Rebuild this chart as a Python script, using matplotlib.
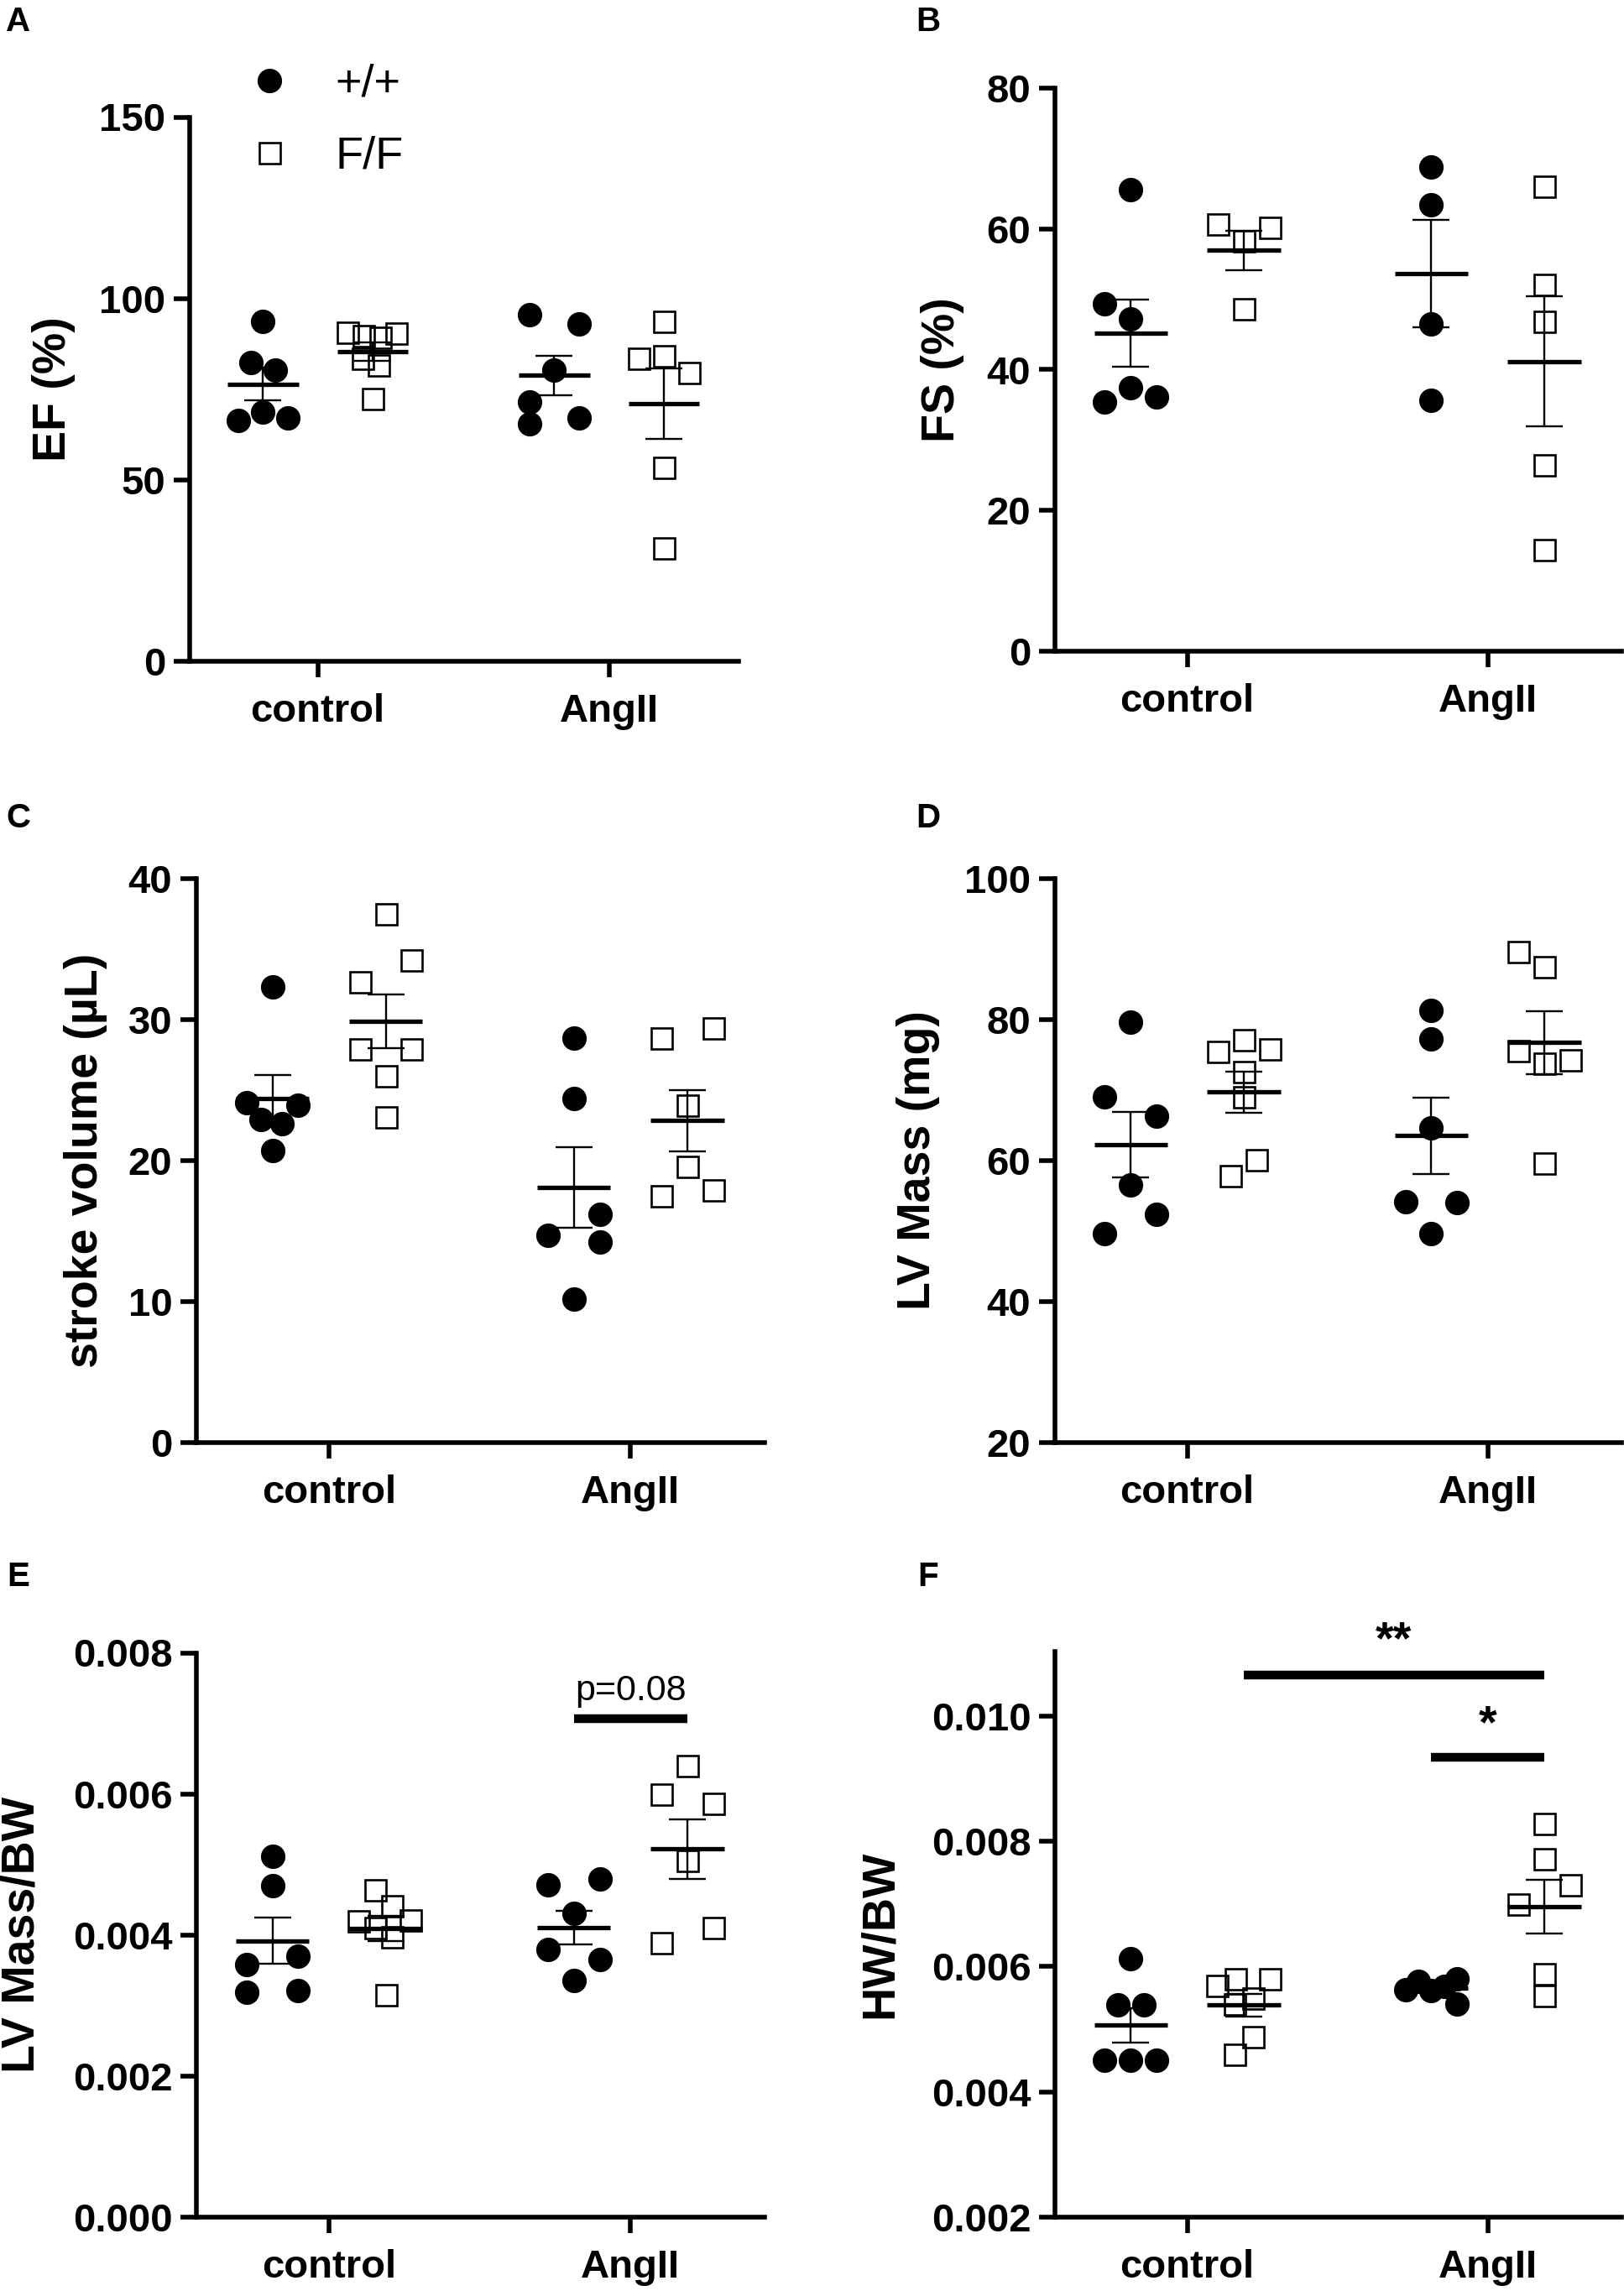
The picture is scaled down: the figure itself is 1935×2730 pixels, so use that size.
import numpy as np
import matplotlib.pyplot as plt
from matplotlib.ticker import FormatStrFormatter

plt.rcParams['font.family'] = ['Liberation Sans', 'DejaVu Sans']

groups = ['control', 'AngII']
genotypes = ['+/+', 'F/F']

# A: EF (%)
ef_wt_ctrl = [93.6, 82.4, 80.3, 66.4, 68.8, 67.0]
ef_ff_ctrl = [90.7, 89.7, 89.3, 90.4, 83.5, 81.6, 72.4]
ef_wt_ang = [95.6, 92.9, 80.3, 71.4, 65.4, 67.0]
ef_ff_ang = [93.7, 83.4, 84.3, 79.6, 53.5, 31.3]

# B: FS (%)
fs_wt_ctrl = [65.6, 49.4, 47.2, 37.4, 35.4, 36.1]
fs_ff_ctrl = [60.7, 60.2, 58.3, 48.7]
fs_wt_ang = [68.8, 63.4, 46.5, 35.7]
fs_ff_ang = [66.0, 52.1, 46.8, 26.5, 14.4]

# C: stroke volume (uL)
sv_wt_ctrl = [32.3, 24.1, 23.9, 22.9, 22.6, 20.7]
sv_ff_ctrl = [37.5, 34.2, 32.7, 27.9, 27.9, 26.0, 23.1]
sv_wt_ang = [28.7, 24.4, 16.2, 14.7, 14.2, 10.2]
sv_ff_ang = [28.7, 29.4, 23.9, 19.6, 17.5, 17.9]

# D: LV mass (mg)
lvm_wt_ctrl = [79.6, 69.0, 66.3, 56.6, 52.4, 49.7]
lvm_ff_ctrl = [75.5, 77.1, 75.8, 72.6, 69.0, 60.1, 57.9]
lvm_wt_ang = [81.3, 77.3, 64.6, 54.2, 54.1, 49.7]
lvm_ff_ang = [89.7, 87.5, 75.6, 73.8, 74.3, 59.6]

# E: LV mass / BW
lvbw_wt_ctrl = [0.00512, 0.00470, 0.00358, 0.00370, 0.00319, 0.00321]
lvbw_ff_ctrl = [0.00464, 0.00441, 0.00421, 0.00420, 0.00410, 0.00397, 0.00315]
lvbw_wt_ang = [0.00471, 0.00480, 0.00431, 0.00380, 0.00365, 0.00335]
lvbw_ff_ang = [0.00640, 0.00599, 0.00587, 0.00505, 0.00410, 0.00389]

# F: HW / BW
hwbw_wt_ctrl = [0.00612, 0.00539, 0.00539, 0.00450, 0.00450, 0.00450]
hwbw_ff_ctrl = [0.00570, 0.00581, 0.00581, 0.00550, 0.00540, 0.00488, 0.00460]
hwbw_wt_ang = [0.00563, 0.00577, 0.00562, 0.00569, 0.00581, 0.00540]
hwbw_ff_ang = [0.00829, 0.00772, 0.00731, 0.00700, 0.00589, 0.00554]

# horizontal scatter of overlapping points (in marker widths), same order as data
ef_spread = [[[0, -0.5, 0.5, -1, 0, 1], [-1, -0.35, 0.3, 0.95, -0.4, 0.25, 0]],
             [[-1, 1, 0, -1, -1, 1], [0, -1, 0, 1, 0, 0]]]
fs_spread = [[[0, -1, 0, 0, -1, 1], [-1, 1, 0, 0]],
             [[0, 0, 0, 0], [0, 0, 0, 0, 0]]]
sv_spread = [[[0, -1, 1, -0.45, 0.37, 0], [0, 1, -1, -1, 1, 0, 0]],
             [[0, 0, 1, -1, 1, 0], [-1, 1, 0, 0, -1, 1]]]
lvm_spread = [[[0, -1, 1, 0, 1, -1], [-1, 0, 1, 0, 0, 0.5, -0.5]],
              [[0, 0, 0, -1, 1, 0], [-1, 0, -1, 0, 1, 0]]]
lvbw_spread = [[[0, 0, -1, 1, -1, 1], [-0.4, 0.25, 0.95, -1.05, -0.4, 0.25, 0]],
               [[-1, 1, 0, -1, 1, 0], [0, -1, 1, 0, 1, -1]]]
hwbw_spread = [[[0, -0.5, 0.5, -1, 0, 1], [-1.05, -0.33, 1, 0.36, -0.36, 0.36, -0.36]],
               [[-1, -0.5, 0, 0.5, 1, 1], [0, 0, 1, -1, 0, 0]]]

W, H = 1935, 2730
SUB = 0.188     # offset of genotype column from group tick
STEP = 0.086    # one marker width in data units
HALF = 0.122    # half width of mean line
XLIM = (-0.44, 1.445)

fig = plt.figure(figsize=(W / 100, H / 100), dpi=100)


def add_ax(left, top, right, bottom):
    return fig.add_axes([left / W, 1 - bottom / H, (right - left) / W, (bottom - top) / H])


def panel(ax, data, spread, ylabel, ylim, yticks, labelx, fmt=None):
    handles = []
    for gi in range(2):
        for si in range(2):
            vals = np.array(data[gi][si])
            xc = gi + (2 * si - 1) * SUB
            xs = xc + np.array(spread[gi][si]) * STEP
            if si == 0:
                h, = ax.plot(xs, vals, 'o', ms=21, mfc='k', mec='k', mew=0,
                             ls='none', zorder=2, clip_on=False)
            else:
                h, = ax.plot(xs, vals, 's', ms=18, mfc='none', mec='k', mew=1.9,
                             ls='none', zorder=2, clip_on=False)
            if gi == 0:
                handles.append(h)
            m = vals.mean()
            sem = vals.std(ddof=1) / np.sqrt(len(vals))
            ax.hlines(m, xc - HALF, xc + HALF, color='k', lw=3.8, zorder=3)
            ax.errorbar(xc, m, yerr=sem, fmt='none', ecolor='k', elinewidth=1.7,
                        capsize=15.5, capthick=1.7, zorder=3)
    ax.set_xlim(*XLIM)
    ax.set_ylim(*ylim)
    ax.set_yticks(yticks)
    ax.set_xticks([0, 1])
    ax.set_xticklabels(groups)
    if fmt:
        ax.yaxis.set_major_formatter(FormatStrFormatter(fmt))
    for s in ['top', 'right']:
        ax.spines[s].set_visible(False)
    for s in ['left', 'bottom']:
        ax.spines[s].set_linewidth(4)
    ax.tick_params(axis='both', width=4, length=13.7, labelsize=34)
    ax.tick_params(axis='x', pad=14)
    ax.tick_params(axis='y', pad=7)
    for lbl in ax.get_xticklabels() + ax.get_yticklabels():
        lbl.set_fontweight('bold')
    ax.set_ylabel(ylabel, fontsize=40, fontweight='bold', va='center')
    ax.yaxis.set_label_coords(labelx, 0.5)
    return handles


axA = add_ax(226, 139.5, 880, 788)
axB = add_ax(1257, 105, 1932, 776)
axC = add_ax(234, 1047, 911, 1719)
axD = add_ax(1257, 1047, 1932, 1719)
axE = add_ax(234, 1969.5, 911, 2642)
axF = add_ax(1257, 1968, 1932, 2642)

hA = panel(axA, [[ef_wt_ctrl, ef_ff_ctrl], [ef_wt_ang, ef_ff_ang]], ef_spread,
           'EF (%)', (0, 150), [0, 50, 100, 150], -0.248)
panel(axB, [[fs_wt_ctrl, fs_ff_ctrl], [fs_wt_ang, fs_ff_ang]], fs_spread,
      'FS (%)', (0, 80), [0, 20, 40, 60, 80], -0.199)
panel(axC, [[sv_wt_ctrl, sv_ff_ctrl], [sv_wt_ang, sv_ff_ang]], sv_spread,
      'stroke volume (µL)', (0, 40), [0, 10, 20, 30, 40], -0.195)
panel(axD, [[lvm_wt_ctrl, lvm_ff_ctrl], [lvm_wt_ang, lvm_ff_ang]], lvm_spread,
      'LV Mass (mg)', (20, 100), [20, 40, 60, 80, 100], -0.241)
panel(axE, [[lvbw_wt_ctrl, lvbw_ff_ctrl], [lvbw_wt_ang, lvbw_ff_ang]], lvbw_spread,
      'LV Mass/BW', (0, 0.008), [0, 0.002, 0.004, 0.006, 0.008], -0.307, '%.3f')
panel(axF, [[hwbw_wt_ctrl, hwbw_ff_ctrl], [hwbw_wt_ang, hwbw_ff_ang]], hwbw_spread,
      'HW/BW', (0.002, 0.01103), [0.002, 0.004, 0.006, 0.008, 0.010], -0.308, '%.3f')

# legend
axA.legend(hA, genotypes, loc='upper left', bbox_to_anchor=(0.104, 1.098),
           frameon=False, fontsize=39, handlelength=1.0, handletextpad=0.95,
           labelspacing=0.66, borderpad=0, borderaxespad=0, numpoints=1)

# significance annotations
bar_e, txt_e = 0.007066, 0.007459
axE.plot([1 - SUB, 1 + SUB], [bar_e, bar_e], color='k', lw=7.5,
         solid_capstyle='butt', clip_on=False)
axE.text(1, txt_e, 'p=0.08', ha='center', va='center', fontsize=31)

bar_f1, txt_f1 = 0.010657, 0.011193
bar_f2, txt_f2 = 0.009343, 0.009853
axF.plot([SUB, 1 + SUB], [bar_f1, bar_f1], color='k', lw=7.5,
         solid_capstyle='butt', clip_on=False)
axF.text(0.5 + SUB, txt_f1, '**', ha='center', va='center', fontsize=40,
         fontweight='bold', clip_on=False)
axF.plot([1 - SUB, 1 + SUB], [bar_f2, bar_f2], color='k', lw=7.5,
         solid_capstyle='butt', clip_on=False)
axF.text(1, txt_f2, '*', ha='center', va='center', fontsize=40, fontweight='bold')

# panel letters
for letter, (px, py) in zip('ABCDEF', [(22, 26), (1106, 26), (22, 975),
                                       (1106, 975), (22, 1879), (1106, 1879)]):
    fig.text(px / W, 1 - py / H, letter, fontsize=29, fontweight='bold',
             ha='center', va='center')

fig.savefig('out.png', dpi=100)
